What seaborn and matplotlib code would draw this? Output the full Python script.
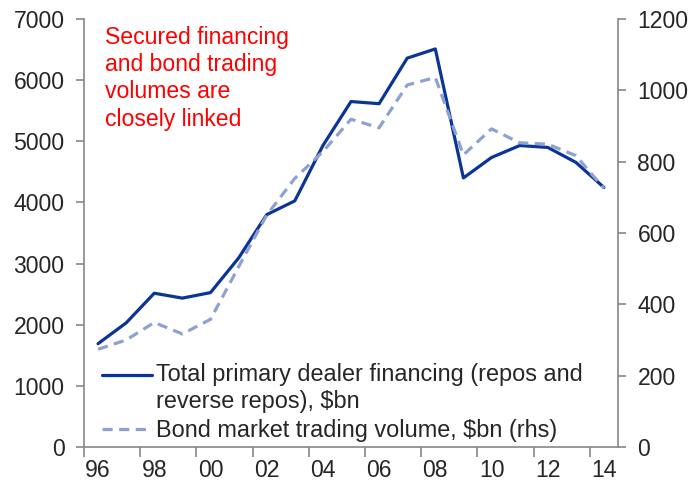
import numpy as np
import pandas as pd
import seaborn as sns
import matplotlib.pyplot as plt
from matplotlib.legend_handler import HandlerLine2D

years = list(range(1996, 2015))
financing = [1690, 2030, 2515, 2435, 2525, 3090, 3800, 4025, 4930, 5650,
             5615, 6360, 6510, 4400, 4735, 4930, 4900, 4655, 4245]
trading = [274, 300, 349, 317, 358, 505, 650, 753, 828, 919,
           895, 1015, 1036, 819, 892, 853, 849, 817, 725]
year_labels = ["96", "98", "00", "02", "04", "06", "08", "10", "12", "14"]

df = pd.DataFrame({"year": years, "financing": financing, "trading": trading})

sns.set_theme(style="white")
plt.rcParams["font.family"] = ["Liberation Sans", "DejaVu Sans"]

dark = "#0B3497"
light = "#8EA2D2"
grey = "#888888"
fs = 16.6


class RaisedLine(HandlerLine2D):
    # put the handle next to the first line of a two-line label
    def __init__(self, shift=0, **kw):
        super().__init__(**kw)
        self.shift = shift

    def create_artists(self, legend, orig_handle, xdescent, ydescent, width,
                       height, fontsize, trans):
        arts = super().create_artists(legend, orig_handle, xdescent, ydescent,
                                      width, height, fontsize, trans)
        for a in arts:
            a.set_ydata(np.asarray(a.get_ydata()) + self.shift * fontsize)
        return arts


fig = plt.figure(figsize=(6.91, 4.83), dpi=100)
ax = fig.add_axes([84 / 691, 1 - 447 / 483, 534 / 691, 428 / 483])
ax2 = ax.twinx()

sns.lineplot(data=df, x="year", y="financing", ax=ax, color=dark, lw=2.3,
             label="Total primary dealer financing (repos and\nreverse repos), $bn",
             legend=False)
sns.lineplot(data=df, x="year", y="trading", ax=ax2, color=light, lw=2.3,
             label="Bond market trading volume, $bn (rhs)", legend=False)
ax2.lines[0].set_linestyle((0, (3.2, 2.0)))

ax.set_xlim(1995.5, 2014.5)
ax.set_ylim(0, 7000)
ax2.set_ylim(0, 1200)
ax.set_yticks(range(0, 7001, 1000))
ax2.set_yticks(range(0, 1201, 200))
ax.set_xticks(years[::2])
ax.set_xticklabels(year_labels)
ax.set_xticks(np.arange(1995.5, 2014.5, 2), minor=True)
ax.set_xlabel("")
ax.set_ylabel("")
ax2.set_ylabel("")

for a in (ax, ax2):
    for s in a.spines.values():
        s.set_color(grey)
        s.set_linewidth(1.2)
    a.spines["top"].set_visible(False)
ax.spines["right"].set_visible(False)
ax2.spines["left"].set_visible(False)
ax2.spines["bottom"].set_visible(False)

ax.tick_params(axis="y", which="major", direction="out", length=6, width=1.2,
               color=grey, labelsize=fs, pad=8, left=True)
ax2.tick_params(axis="y", which="major", direction="out", length=6, width=1.2,
                color=grey, labelsize=fs, pad=8, right=True)
ax.tick_params(axis="x", which="major", length=0, labelsize=fs, pad=8.5)
ax.tick_params(axis="x", which="minor", direction="out", length=7, width=1.2,
               color=grey, bottom=True)

ax.text(0.039, 0.984, "Secured financing\nand bond trading\nvolumes are\nclosely linked",
        transform=ax.transAxes, color="red", fontsize=fs, va="top", ha="left",
        linespacing=1.24)

h1 = ax.lines[0]
h2 = ax2.lines[0]
ax.legend([h1, h2], [h1.get_label(), h2.get_label()],
          handler_map={h1: RaisedLine(shift=0.6), h2: HandlerLine2D()},
          loc="lower left", bbox_to_anchor=(0.017, -0.01), frameon=False,
          fontsize=16.9, handlelength=2.1, handletextpad=0.2, labelspacing=0.26,
          borderaxespad=0)

fig.savefig("out.png", dpi=100)
